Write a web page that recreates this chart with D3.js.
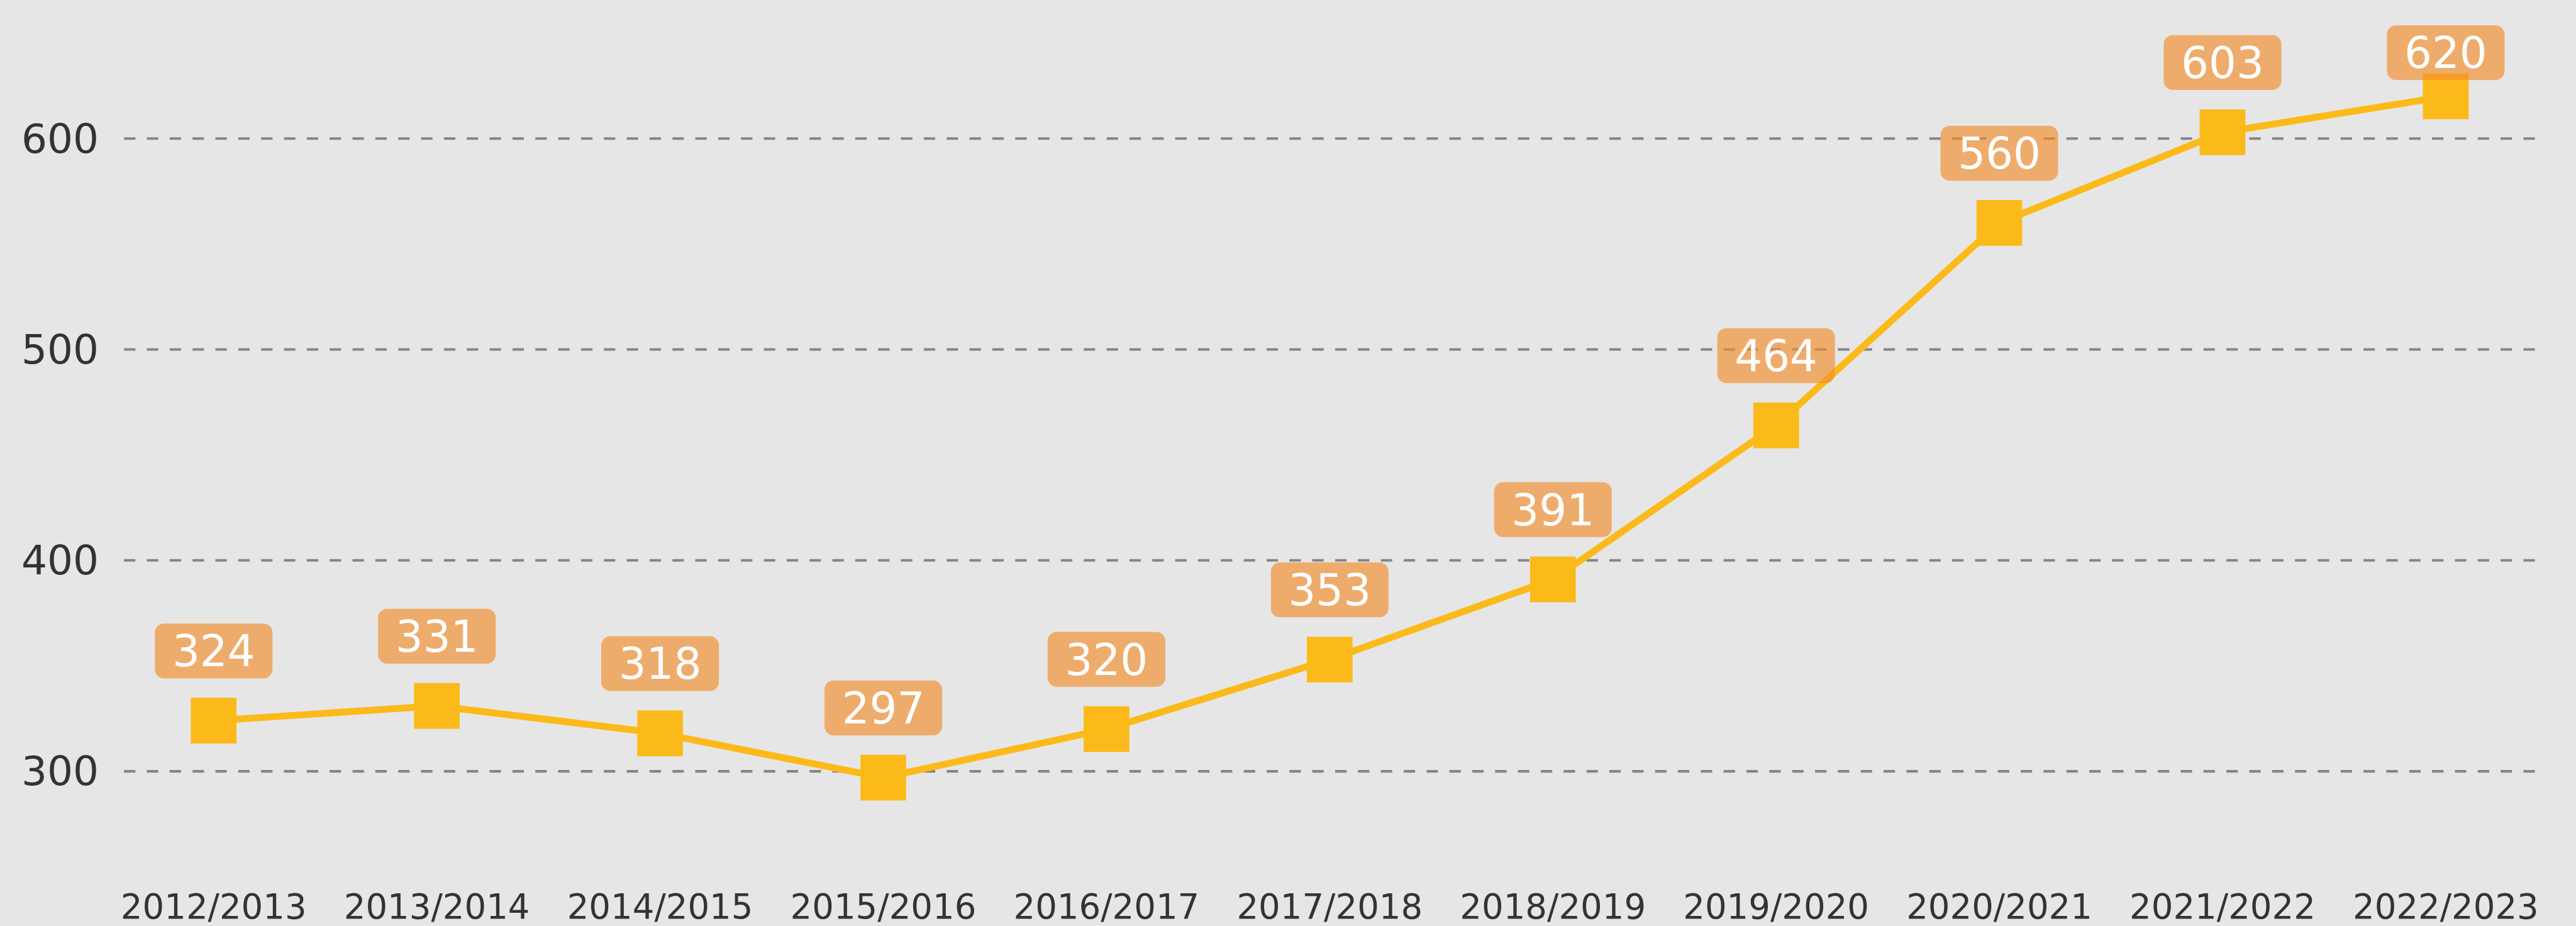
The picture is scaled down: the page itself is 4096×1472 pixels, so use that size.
<!DOCTYPE html>
<html>
<head>
<meta charset="utf-8">
<script src="https://cdn.jsdelivr.net/npm/d3@7"></script>
<style>
  html, body { margin: 0; padding: 0; background: #e6e6e6; overflow: hidden; }
  svg { display: block; }
</style>
</head>
<body>
<script>
// Data
const seasons = ["2012/2013", "2013/2014", "2014/2015", "2015/2016", "2016/2017",
                 "2017/2018", "2018/2019", "2019/2020", "2020/2021", "2021/2022", "2022/2023"];
const values = [324, 331, 318, 297, 320, 353, 391, 464, 560, 603, 620];
const yTicks = [300, 400, 500, 600];

// Drawn in the reference's own pixel space, scaled into the window by the viewBox
const W = 4509, H = 1620;

const svg = d3.select("body")
  .append("svg")
  .attr("width", 4096)
  .attr("height", 1472)
  .attr("viewBox", `0 0 ${W} ${H}`);

svg.append("rect")
  .attr("width", W)
  .attr("height", H)
  .attr("fill", "#e6e6e6");

// Scales
const x = d3.scalePoint()
  .domain(seasons)
  .range([374, 4281]);

const y = d3.scaleLinear()
  .domain([300, 600])
  .range([1349.5, 242.3]);

// Gridlines
svg.append("g")
  .selectAll("line")
  .data(yTicks)
  .enter()
  .append("line")
  .attr("x1", 217)
  .attr("x2", 4450)
  .attr("y1", d => y(d))
  .attr("y2", d => y(d))
  .attr("stroke", "#858585")
  .attr("stroke-width", 4.5)
  .attr("stroke-dasharray", "20,20");

// Y axis labels
svg.append("g")
  .selectAll("text")
  .data(yTicks)
  .enter()
  .append("text")
  .attr("x", 173)
  .attr("y", d => y(d) + 24.5)
  .attr("text-anchor", "end")
  .attr("font-family", "DejaVu Sans, Verdana, sans-serif")
  .attr("font-size", 71)
  .attr("fill", "#333333")
  .text(d => d);

// X axis labels
svg.append("g")
  .selectAll("text")
  .data(seasons)
  .enter()
  .append("text")
  .attr("x", d => x(d))
  .attr("y", 1607)
  .attr("text-anchor", "middle")
  .attr("font-family", "DejaVu Sans, Verdana, sans-serif")
  .attr("font-size", 60)
  .attr("fill", "#333333")
  .text(d => d);

// Line
const line = d3.line()
  .x((d, i) => x(seasons[i]))
  .y(d => y(d));

svg.append("path")
  .datum(values)
  .attr("d", line)
  .attr("fill", "none")
  .attr("stroke", "#fbba19")
  .attr("stroke-width", 12)
  .attr("stroke-linejoin", "round");

// Square markers
const mk = 80;
svg.append("g")
  .selectAll("rect")
  .data(values)
  .enter()
  .append("rect")
  .attr("x", (d, i) => x(seasons[i]) - mk / 2)
  .attr("y", d => y(d) - mk / 2)
  .attr("width", mk)
  .attr("height", mk)
  .attr("fill", "#fbba19");

// Value labels (boxes kept inside the top edge)
const bw = 206, bh = 96;
const boxTop = d => Math.max(44, y(d) - 74 - bh);

const labels = svg.append("g")
  .selectAll("g")
  .data(values)
  .enter()
  .append("g")
  .attr("transform", (d, i) => "translate(" + x(seasons[i]) + "," + boxTop(d) + ")");

labels.append("rect")
  .attr("x", -bw / 2)
  .attr("y", 0)
  .attr("width", bw)
  .attr("height", bh)
  .attr("rx", 16)
  .attr("ry", 16)
  .attr("fill", "#f28e2b")
  .attr("fill-opacity", 0.65);

labels.append("text")
  .attr("x", 0)
  .attr("y", bh / 2 + 27)
  .attr("text-anchor", "middle")
  .attr("font-family", "DejaVu Sans, Verdana, sans-serif")
  .attr("font-size", 76)
  .attr("fill", "#ffffff")
  .text(d => d);
</script>
</body>
</html>
